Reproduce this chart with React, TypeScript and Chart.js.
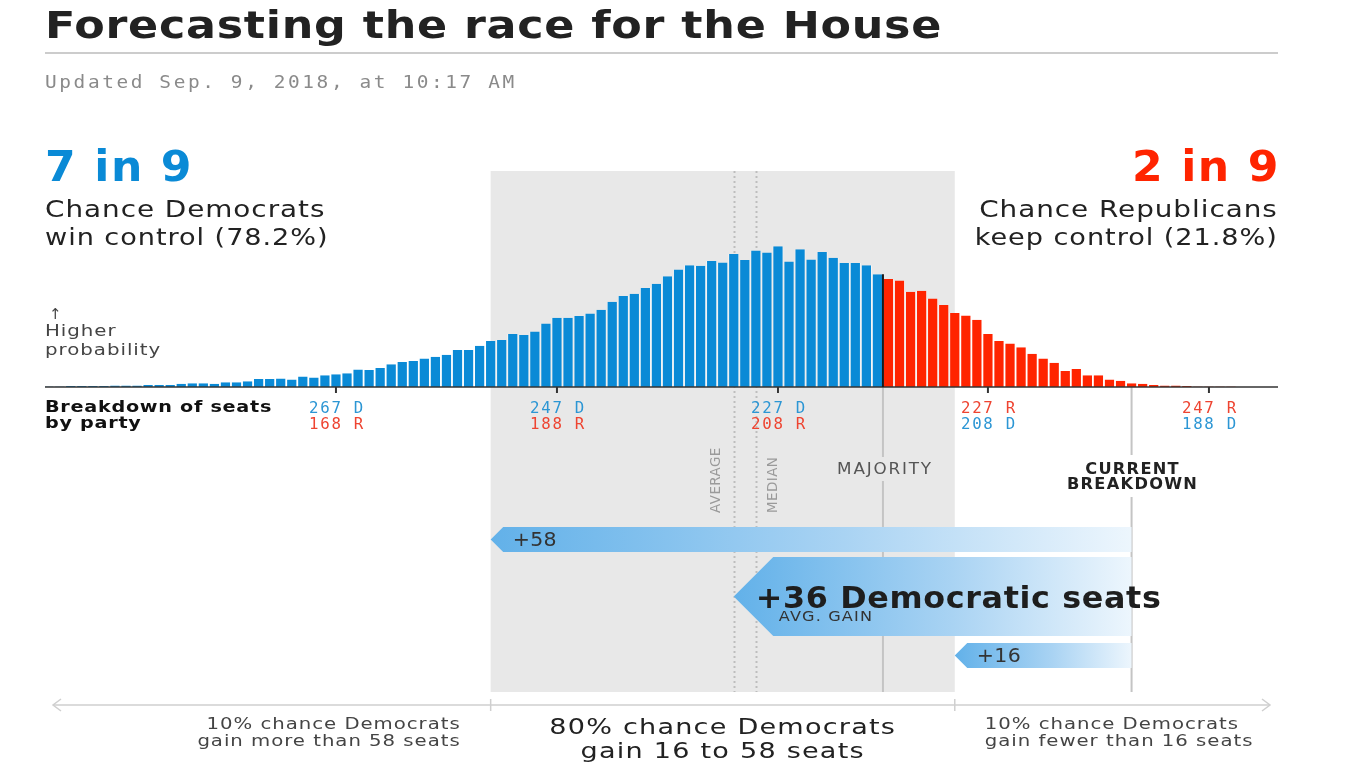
import React, { useEffect, useRef } from "react";
import { Chart, registerables } from "chart.js";

Chart.register(...registerables);

// ---------- data ----------
// Number of Democratic seats (x categories), from 293 D down to 186 D
const SEATS_D = [
  293, 292, 291, 290, 289, 288, 287, 286, 285, 284, 283, 282, 281, 280, 279, 278,
  277, 276, 275, 274, 273, 272, 271, 270, 269, 268, 267, 266, 265, 264, 263, 262,
  261, 260, 259, 258, 257, 256, 255, 254, 253, 252, 251, 250, 249, 248, 247, 246,
  245, 244, 243, 242, 241, 240, 239, 238, 237, 236, 235, 234, 233, 232, 231, 230,
  229, 228, 227, 226, 225, 224, 223, 222, 221, 220, 219, 218, 217, 216, 215, 214,
  213, 212, 211, 210, 209, 208, 207, 206, 205, 204, 203, 202, 201, 200, 199, 198,
  197, 196, 195, 194, 193, 192, 191, 190, 189, 188, 187, 186,
];
// Probability (%) of each outcome
const PROB = [
  0.01, 0.01, 0.02, 0.02, 0.02, 0.02, 0.03, 0.03, 0.03, 0.04, 0.04, 0.04, 0.06, 0.07, 0.07, 0.06,
  0.09, 0.09, 0.11, 0.15, 0.15, 0.16, 0.14, 0.2, 0.18, 0.22, 0.24, 0.26, 0.33, 0.32, 0.36, 0.43,
  0.47, 0.49, 0.54, 0.57, 0.61, 0.7, 0.7, 0.78, 0.87, 0.89, 1.0, 0.98, 1.05, 1.2, 1.31, 1.31,
  1.34, 1.39, 1.46, 1.61, 1.72, 1.76, 1.87, 1.95, 2.09, 2.22, 2.3, 2.29, 2.38, 2.35, 2.51, 2.4,
  2.58, 2.54, 2.66, 2.37, 2.6, 2.41, 2.55, 2.44, 2.34, 2.34, 2.3, 2.13, 2.04, 2.01, 1.8, 1.82,
  1.67, 1.55, 1.4, 1.35, 1.27, 1.0, 0.87, 0.82, 0.75, 0.63, 0.54, 0.46, 0.3, 0.34, 0.22, 0.22,
  0.14, 0.12, 0.07, 0.06, 0.04, 0.03, 0.03, 0.02, 0.01, 0.01, 0.01, 0.01,
];
const HOUSE_SEATS = 435;
const MAJORITY_D = 218;
const CURRENT_D = 195;
const AVERAGE_D = 231;
const MEDIAN_D = 229;
const GAINS = [58, 36, 16]; // 90th pct, average, 10th pct
const TICKS_D = [267, 247, 227, 208, 188];
const X_RANGE = [181.75, 293.33];
const Y_MAX = 4.08;
const DEM_CHANCE = "78.2%";
const REP_CHANCE = "21.8%";

// ---------- styles ----------
const SANS = '"DejaVu Sans", sans-serif';
const MONO = '"DejaVu Sans Mono", monospace';
const BLUE = "#0A8AD6";
const RED = "#FF2400";
const TXT_BLUE = "#2C96D4";
const TXT_RED = "#EE4431";
const W = 1366;
const H = 768;
const BAND_BOTTOM = 692;

type TO = { size: number; weight?: string; family?: string; color: string; align?: CanvasTextAlign; ls?: number; sx?: number };
function drawText(ctx: CanvasRenderingContext2D, s: string, x: number, y: number, o: TO) {
  ctx.save();
  ctx.font = `${o.weight || "normal"} ${o.size}px ${o.family || SANS}`;
  ctx.fillStyle = o.color;
  ctx.textAlign = o.align || "left";
  ctx.textBaseline = "alphabetic";
  (ctx as any).letterSpacing = `${o.ls || 0}px`;
  ctx.translate(x, y);
  ctx.scale(o.sx || 1, 1);
  ctx.fillText(s, 0, 0);
  ctx.restore();
}
function seg(ctx: CanvasRenderingContext2D, x1: number, y1: number, x2: number, y2: number) {
  ctx.beginPath();
  ctx.moveTo(x1, y1);
  ctx.lineTo(x2, y2);
  ctx.stroke();
}

const annotate = {
  id: "annotate",
  beforeDatasetsDraw(chart: any) {
    const { ctx, chartArea: a, scales } = chart;
    const x = scales.x;
    const base = a.bottom;
    const bandL = x.getPixelForValue(CURRENT_D + GAINS[0]);
    const bandR = x.getPixelForValue(CURRENT_D + GAINS[2]);
    ctx.save();
    ctx.fillStyle = "#E8E8E8";
    ctx.fillRect(bandL, a.top, bandR - bandL, BAND_BOTTOM - a.top);

    // average & median dotted lines
    ctx.strokeStyle = "#BDBDBD";
    ctx.lineWidth = 2;
    ctx.setLineDash([2, 3]);
    [AVERAGE_D, MEDIAN_D].forEach((d) => {
      const px = Math.round(x.getPixelForValue(d)) + 0.5;
      seg(ctx, px, a.top, px, BAND_BOTTOM);
    });
    ctx.setLineDash([]);

    // majority & current breakdown lines (below axis)
    ctx.strokeStyle = "#C4C4C4";
    ctx.lineWidth = 2;
    const xm = x.getPixelForValue(MAJORITY_D - 0.5);
    seg(ctx, xm, base, xm, 457);
    seg(ctx, xm, 481, xm, BAND_BOTTOM);
    const xc = x.getPixelForValue(CURRENT_D);
    seg(ctx, xc, base, xc, 455);
    seg(ctx, xc, 497, xc, BAND_BOTTOM);
    ctx.restore();
  },
  afterDatasetsDraw(chart: any) {
    const { ctx, chartArea: a, scales } = chart;
    const x = scales.x;
    const y = scales.y;
    const base = a.bottom;
    ctx.save();

    // axis line
    ctx.strokeStyle = "#333";
    ctx.lineWidth = 1.5;
    seg(ctx, a.left, base, a.right, base);

    // dark divider at majority
    const xm = x.getPixelForValue(MAJORITY_D - 0.5);
    const topMaj = y.getPixelForValue(PROB[SEATS_D.indexOf(MAJORITY_D)]);
    ctx.strokeStyle = "#1A1A1A";
    ctx.lineWidth = 2;
    seg(ctx, xm, base, xm, topMaj);

    // ticks + labels
    TICKS_D.forEach((d) => {
      const px = x.getPixelForValue(d);
      ctx.strokeStyle = "#333";
      ctx.lineWidth = 2;
      seg(ctx, px, base, px, base + 6);
      const r = HOUSE_SEATS - d;
      const dem = `${d} D`;
      const rep = `${r} R`;
      const first = d >= MAJORITY_D ? [dem, TXT_BLUE] : [rep, TXT_RED];
      const second = d >= MAJORITY_D ? [rep, TXT_RED] : [dem, TXT_BLUE];
      const o = { size: 15, family: MONO, align: "center" as CanvasTextAlign, ls: 1.6, sx: 1.05 };
      drawText(ctx, first[0], px + 1, 413, { ...o, color: first[1] });
      drawText(ctx, second[0], px + 1, 428.5, { ...o, color: second[1] });
    });

    // vertical line labels
    const xa = x.getPixelForValue(AVERAGE_D);
    const xmed = x.getPixelForValue(MEDIAN_D);
    [["AVERAGE", xa - 17], ["MEDIAN", xmed + 18]].forEach(([s, px]) => {
      ctx.save();
      ctx.translate(px as number, 513);
      ctx.rotate(-Math.PI / 2);
      ctx.font = `13.5px ${SANS}`;
      (ctx as any).letterSpacing = "0.4px";
      ctx.fillStyle = "#9A9A9A";
      ctx.textAlign = "left";
      ctx.textBaseline = "middle";
      ctx.fillText(s as string, 0, 0);
      ctx.restore();
    });
    drawText(ctx, "MAJORITY", xm + 2, 474, { size: 15, color: "#555", align: "center", ls: 1.6, sx: 1.12 });
    const xc = x.getPixelForValue(CURRENT_D);
    drawText(ctx, "CURRENT", xc + 1, 474, { size: 15, weight: "bold", color: "#222", align: "center", ls: 1.2, sx: 1.08 });
    drawText(ctx, "BREAKDOWN", xc + 1, 489, { size: 15, weight: "bold", color: "#222", align: "center", ls: 1.2, sx: 1.08 });

    // gain arrows
    const arrows = [
      { gain: GAINS[0], top: 527, h: 25 },
      { gain: GAINS[1], top: 557, h: 79 },
      { gain: GAINS[2], top: 643, h: 25 },
    ];
    arrows.forEach((ar) => {
      const tip = x.getPixelForValue(CURRENT_D + ar.gain);
      const head = ar.h / 2;
      const g = ctx.createLinearGradient(tip, 0, xc, 0);
      g.addColorStop(0, "#62B1E9");
      g.addColorStop(0.55, "#A9D3F3");
      g.addColorStop(1, "#EDF6FD");
      ctx.fillStyle = g;
      ctx.beginPath();
      ctx.moveTo(tip, ar.top + head);
      ctx.lineTo(tip + head, ar.top);
      ctx.lineTo(xc, ar.top);
      ctx.lineTo(xc, ar.top + ar.h);
      ctx.lineTo(tip + head, ar.top + ar.h);
      ctx.closePath();
      ctx.fill();
    });
    const t58 = x.getPixelForValue(CURRENT_D + GAINS[0]);
    const t36 = x.getPixelForValue(CURRENT_D + GAINS[1]);
    const t16 = x.getPixelForValue(CURRENT_D + GAINS[2]);
    drawText(ctx, `+${GAINS[0]}`, t58 + 22, 546, { size: 19, color: "#333", ls: 0.3, sx: 1.08 });
    drawText(ctx, `+${GAINS[1]} Democratic seats`, t36 + 22, 608, { size: 30, weight: "bold", color: "#1E1E1E", ls: 0.6, sx: 1.06 });
    drawText(ctx, "AVG. GAIN", t36 + 45, 621, { size: 14, color: "#333", ls: 1, sx: 1.15 });
    drawText(ctx, `+${GAINS[2]}`, t16 + 22, 662, { size: 19, color: "#333", ls: 0.3, sx: 1.08 });

    // bottom range line
    const bandL = t58;
    const bandR = t16;
    const ly = 705;
    ctx.strokeStyle = "#CFCFCF";
    ctx.lineWidth = 1.5;
    seg(ctx, 53, ly, 1270, ly);
    ctx.beginPath();
    ctx.moveTo(61, ly - 6);
    ctx.lineTo(53, ly);
    ctx.lineTo(61, ly + 6);
    ctx.moveTo(1262, ly - 6);
    ctx.lineTo(1270, ly);
    ctx.lineTo(1262, ly + 6);
    ctx.stroke();
    seg(ctx, bandL, ly - 6, bandL, ly + 6);
    seg(ctx, bandR, ly - 6, bandR, ly + 6);

    const small = { size: 16, color: "#444", ls: 0.8, sx: 1.23 };
    drawText(ctx, "10% chance Democrats", bandL - 30, 729, { ...small, align: "right" });
    drawText(ctx, `gain more than ${GAINS[0]} seats`, bandL - 30, 746, { ...small, align: "right" });
    drawText(ctx, "10% chance Democrats", bandR + 30, 729, { ...small, align: "left" });
    drawText(ctx, `gain fewer than ${GAINS[2]} seats`, bandR + 30, 746, { ...small, align: "left" });
    const mid = (bandL + bandR) / 2;
    const big = { size: 22, color: "#222", ls: 1, sx: 1.23, align: "center" as CanvasTextAlign };
    drawText(ctx, "80% chance Democrats", mid, 734, big);
    drawText(ctx, `gain ${GAINS[2]} to ${GAINS[0]} seats`, mid, 758, big);
    ctx.restore();
  },
};

type TP = {
  x: number; y: number; size: number; bold?: boolean; mono?: boolean; color: string;
  align?: "left" | "right"; ls?: number; sx?: number; children: React.ReactNode;
};
function T({ x, y, size, bold, mono, color, align = "left", ls = 0, sx = 1, children }: TP) {
  const style: React.CSSProperties = {
    position: "absolute",
    top: y - 0.846 * size,
    whiteSpace: "nowrap",
    fontFamily: mono ? MONO : SANS,
    fontSize: size,
    fontWeight: bold ? 700 : 400,
    lineHeight: `${size}px`,
    color,
    letterSpacing: ls,
    transform: `scaleX(${sx})`,
  };
  if (align === "left") {
    style.left = x;
    style.transformOrigin = "left center";
  } else {
    style.right = W - x - ls;
    style.transformOrigin = "right center";
  }
  return <div style={style}>{children}</div>;
}

export default function App() {
  const ref = useRef<HTMLCanvasElement>(null);
  useEffect(() => {
    if (!ref.current) return;
    const chart = new Chart(ref.current, {
      type: "bar",
      data: {
        datasets: [
          {
            data: SEATS_D.map((s, i) => ({ x: s, y: PROB[i] })),
            backgroundColor: (c: any) => (c.raw && c.raw.x >= MAJORITY_D ? BLUE : RED),
            borderColor: "rgba(255,255,255,0.9)",
            borderWidth: { left: 0.8, right: 0.8, top: 0, bottom: 0 },
            borderSkipped: false,
            barPercentage: 0.98,
            categoryPercentage: 1,
          } as any,
        ],
      },
      options: {
        responsive: false,
        maintainAspectRatio: false,
        devicePixelRatio: 1,
        animation: false,
        events: [],
        layout: { padding: { left: 45, right: 88, top: 171, bottom: H - 387 } },
        plugins: { legend: { display: false }, tooltip: { enabled: false } },
        scales: {
          x: { type: "linear", reverse: true, min: X_RANGE[0], max: X_RANGE[1], display: false, offset: false },
          y: { min: 0, max: Y_MAX, display: false },
        },
      } as any,
      plugins: [annotate],
    });
    return () => chart.destroy();
  }, []);

  return (
    <div style={{ position: "absolute", left: 0, top: 0, width: W, height: H, background: "#fff", overflow: "hidden" }}>
      <canvas ref={ref} width={W} height={H} style={{ position: "absolute", left: 0, top: 0, width: W, height: H }} />
      <T x={45} y={38} size={37} bold color="#222" ls={0.6} sx={1.2}>Forecasting the race for the House</T>
      <div style={{ position: "absolute", left: 45, top: 52, width: 1233, height: 1.5, background: "#CCCCCC" }} />
      <T x={45} y={88} size={18} mono color="#8A8A8A" ls={2.4} sx={1.08}>Updated Sep. 9, 2018, at 10:17 AM</T>

      <T x={45} y={182} size={42} bold color={BLUE} ls={1.5} sx={1.05}>7 in 9</T>
      <T x={45} y={217.5} size={23} color="#222" ls={0.8} sx={1.21}>Chance Democrats</T>
      <T x={45} y={245} size={23} color="#222" ls={0.8} sx={1.18}>win control ({DEM_CHANCE})</T>

      <T x={1278} y={182} size={42} bold color={RED} align="right" ls={1.5} sx={1.05}>2 in 9</T>
      <T x={1277} y={217.5} size={23} color="#222" align="right" ls={0.8} sx={1.21}>Chance Republicans</T>
      <T x={1277} y={245} size={23} color="#222" align="right" ls={0.8} sx={1.18}>keep control ({REP_CHANCE})</T>

      <T x={49} y={320} size={15} color="#444">↑</T>
      <T x={45} y={337} size={16.5} color="#444" ls={0.8} sx={1.2}>Higher</T>
      <T x={45} y={356} size={16.5} color="#444" ls={0.8} sx={1.2}>probability</T>

      <T x={45} y={412.5} size={16} bold color="#111" ls={0.6} sx={1.2}>Breakdown of seats</T>
      <T x={45} y={428.5} size={16} bold color="#111" ls={0.6} sx={1.2}>by party</T>
    </div>
  );
}
